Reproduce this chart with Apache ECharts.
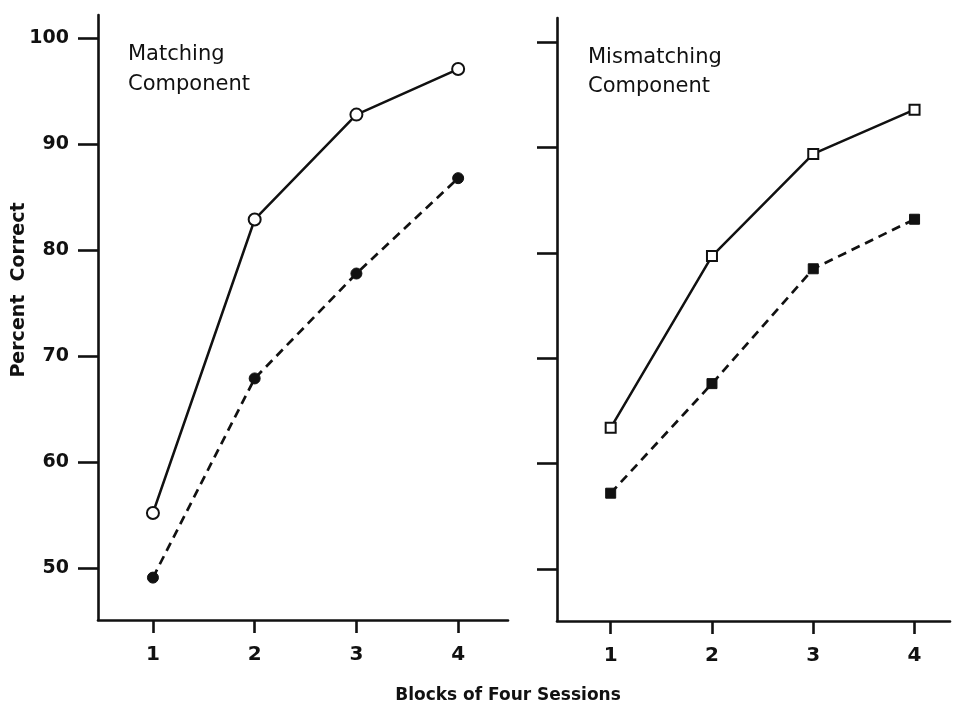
<!DOCTYPE html>
<html>
<head>
<meta charset="utf-8">
<script src="https://cdn.jsdelivr.net/npm/echarts@6/dist/echarts.min.js"></script>
<style>
html,body{margin:0;padding:0;background:#fff;}
#chart{width:954px;height:706px;}
</style>
</head>
<body>
<div id="chart"></div>
<script>
// Data
var blocks = [1, 2, 3, 4];
var xTickLabels = [1, 2, 3, 4];
var yTickValues = [50, 60, 70, 80, 90, 100];
var matchingOpen = [55.2, 82.9, 92.8, 97.1];
var matchingFilled = [49.1, 67.9, 77.8, 86.8];
var mismatchingOpen = [63.4, 79.7, 89.4, 93.6];
var mismatchingFilled = [57.2, 67.6, 78.5, 83.2];

function pairs(xs, ys) { return xs.map(function (x, i) { return [x, ys[i]]; }); }

var FONT = '"DejaVu Sans", sans-serif';
var INK = '#111';

function xAx(idx, min, max) {
  return {
    type: 'value', gridIndex: idx, min: min, max: max,
    axisLine: { show: true, lineStyle: { color: INK, width: 2.6 } },
    axisTick: { show: true, length: 13, lineStyle: { color: INK, width: 2.6 }, customValues: xTickLabels },
    axisLabel: { show: true, margin: 25, color: INK, fontFamily: FONT, fontSize: 20, fontWeight: 'bold', customValues: xTickLabels },
    splitLine: { show: false }
  };
}
function yAx(idx, min, max, labels) {
  return {
    type: 'value', gridIndex: idx, min: min, max: max,
    axisLine: { show: true, onZero: false, lineStyle: { color: INK, width: 2.6 } },
    axisTick: { show: true, length: 20, lineStyle: { color: INK, width: 2.6 }, customValues: yTickValues },
    axisLabel: { show: labels, margin: 29, color: INK, fontFamily: FONT, fontSize: 19, fontWeight: 'bold', customValues: yTickValues },
    splitLine: { show: false }
  };
}

var chart = echarts.init(document.getElementById('chart'), null, { renderer: 'canvas' });
chart.setOption({
  backgroundColor: '#fff',
  animation: false,
  grid: [
    { left: 98, top: 15, width: 410, height: 605 },
    { left: 557, top: 18, width: 393, height: 603 }
  ],
  xAxis: [xAx(0, 0.46, 4.49), xAx(1, 0.47, 4.35)],
  yAxis: [yAx(0, 45.1, 102.2, true), yAx(1, 45.07, 102.3, false)],
  series: [
    { type: 'line', xAxisIndex: 0, yAxisIndex: 0, data: pairs(blocks, matchingOpen),
      symbol: 'circle', symbolSize: 12, itemStyle: { color: '#fff', borderColor: INK, borderWidth: 2 },
      lineStyle: { color: INK, width: 2.5 } },
    { type: 'line', xAxisIndex: 0, yAxisIndex: 0, data: pairs(blocks, matchingFilled),
      symbol: 'circle', symbolSize: 11, itemStyle: { color: INK, borderColor: INK, borderWidth: 1 },
      lineStyle: { color: INK, width: 2.7, type: [9, 6] } },
    { type: 'line', xAxisIndex: 1, yAxisIndex: 1, data: pairs(blocks, mismatchingOpen),
      symbol: 'rect', symbolSize: 10, itemStyle: { color: '#fff', borderColor: INK, borderWidth: 2 },
      lineStyle: { color: INK, width: 2.5 } },
    { type: 'line', xAxisIndex: 1, yAxisIndex: 1, data: pairs(blocks, mismatchingFilled),
      symbol: 'rect', symbolSize: 10, itemStyle: { color: INK, borderColor: INK, borderWidth: 1 },
      lineStyle: { color: INK, width: 2.7, type: [9, 6] } }
  ],
  graphic: [
    { type: 'text', left: 128, top: 44, style: { text: 'Matching', font: '21px ' + FONT, fill: INK } },
    { type: 'text', left: 128, top: 74, style: { text: 'Component', font: '21px ' + FONT, fill: INK } },
    { type: 'text', left: 588, top: 47, style: { text: 'Mismatching', font: '21px ' + FONT, fill: INK } },
    { type: 'text', left: 588, top: 76, style: { text: 'Component', font: '21px ' + FONT, fill: INK } },
    { type: 'text', x: 19, y: 290, rotation: Math.PI / 2,
      style: { text: 'Percent  Correct', font: 'bold 19px ' + FONT, fill: INK, align: 'center', verticalAlign: 'middle' } },
    { type: 'text', x: 508, y: 696,
      style: { text: 'Blocks of Four Sessions', font: 'bold 17px ' + FONT, fill: INK, align: 'center', verticalAlign: 'middle' } }
  ]
});
</script>
</body>
</html>
